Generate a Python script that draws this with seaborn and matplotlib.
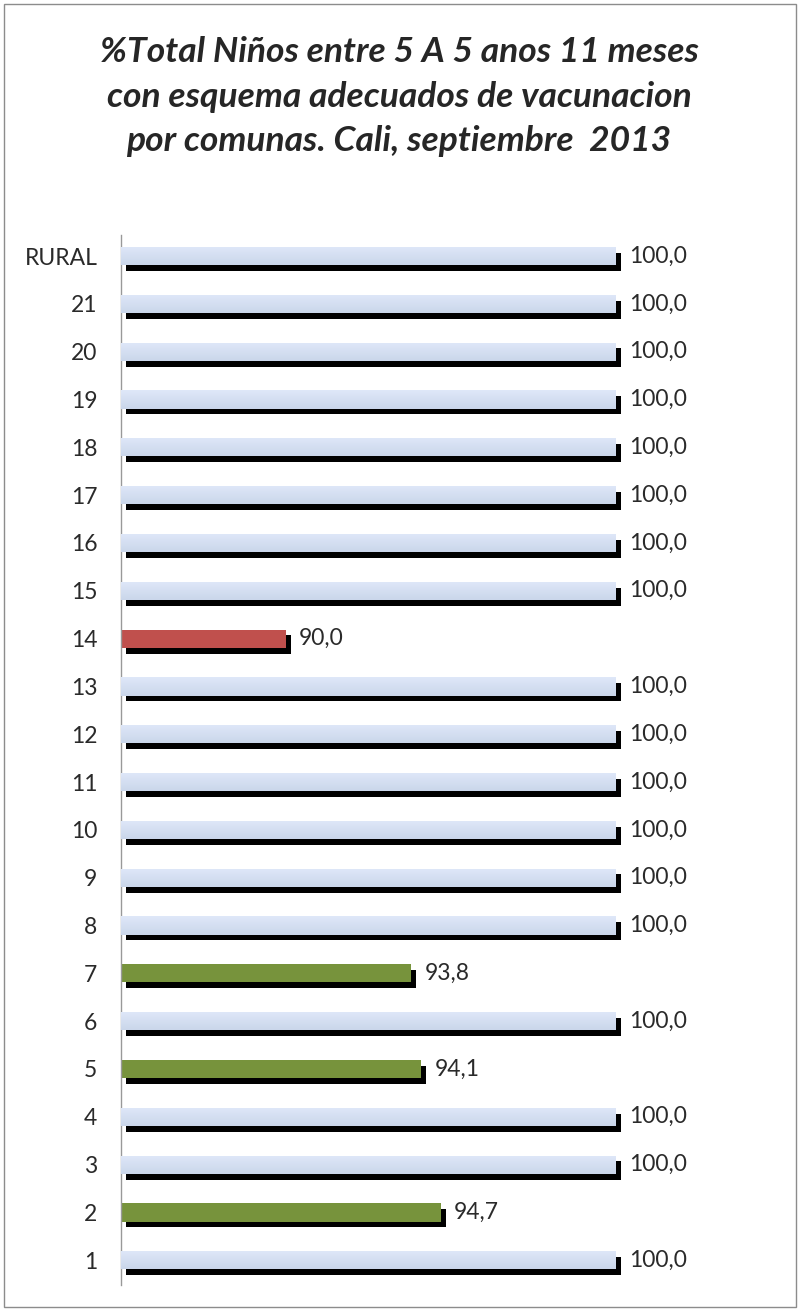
import numpy as np
import pandas as pd
import seaborn as sns
import matplotlib.pyplot as plt
import matplotlib.patheffects as pe

# datos
comunas = ['RURAL', '21', '20', '19', '18', '17', '16', '15', '14', '13', '12',
           '11', '10', '9', '8', '7', '6', '5', '4', '3', '2', '1']
porcentaje = [100.0, 100.0, 100.0, 100.0, 100.0, 100.0, 100.0, 100.0, 90.0, 100.0, 100.0,
              100.0, 100.0, 100.0, 100.0, 93.8, 100.0, 94.1, 100.0, 100.0, 94.7, 100.0]
colores = ['#d6e1f4' if v >= 100 else ('#c0504d' if v <= 90 else '#77933c') for v in porcentaje]

df = pd.DataFrame({'comuna': comunas, 'pct': porcentaje})

sns.set_style('white')
plt.rcParams['font.family'] = ['Lato', 'DejaVu Sans']

fig = plt.figure(figsize=(7.98, 13.10), dpi=100)
ax = fig.add_axes([0.1516, 0.019, 0.827, 0.8016])

sns.barplot(data=df, y='comuna', x='pct', order=comunas, hue='comuna',
            palette=dict(zip(comunas, colores)), legend=False, width=0.38, ax=ax,
            orient='h', saturation=1)

sombra = [pe.SimplePatchShadow(offset=(3.6, -4.2), shadow_rgbFace='black', alpha=1), pe.Normal()]
grad = np.linspace(0, 1, 50).reshape(-1, 1)
for p, v in zip(ax.patches, porcentaje):
    p.set_x(85)
    p.set_width(v - 85)
    p.set_linewidth(0)
    p.set_path_effects(sombra)
    if v >= 100:
        y0, h = p.get_y(), p.get_height()
        im = ax.imshow(grad, extent=(85, v, y0 + h, y0), aspect='auto',
                       cmap=sns.blend_palette(['#dfe8f9', '#cad6ea'], as_cmap=True), zorder=3)
        im.set_clip_path(p)
    ax.text(v + 0.4, p.get_y() + p.get_height() / 2, f'{v:.1f}'.replace('.', ','),
            va='center', ha='left', fontsize=16.5, color='#2a2a2a', zorder=4)

ax.set_xlim(85, 105)
ax.set_ylim(len(comunas) - 0.48, -0.44)
ax.set_xlabel('')
ax.set_ylabel('')
ax.set_xticks([])
ax.tick_params(axis='y', length=0, pad=17, labelsize=16.5, labelcolor='#2a2a2a')
for s in ['top', 'right', 'bottom']:
    ax.spines[s].set_visible(False)
ax.spines['left'].set_color('#999999')
ax.spines['left'].set_linewidth(1)

fig.text(0.5, 0.926, '%Total Niños entre 5 A 5 anos 11 meses\ncon esquema adecuados de vacunacion\npor comunas. Cali, septiembre  2013',
         ha='center', va='center', fontsize=25.5, fontweight='bold', fontstyle='italic',
         linespacing=1.48)

# borde
fig.patches.append(plt.Rectangle((0.005, 0.002), 0.992, 0.995, transform=fig.transFigure,
                                 fill=False, edgecolor='#8c8c8c', linewidth=1))

fig.savefig('out.png', dpi=100)
